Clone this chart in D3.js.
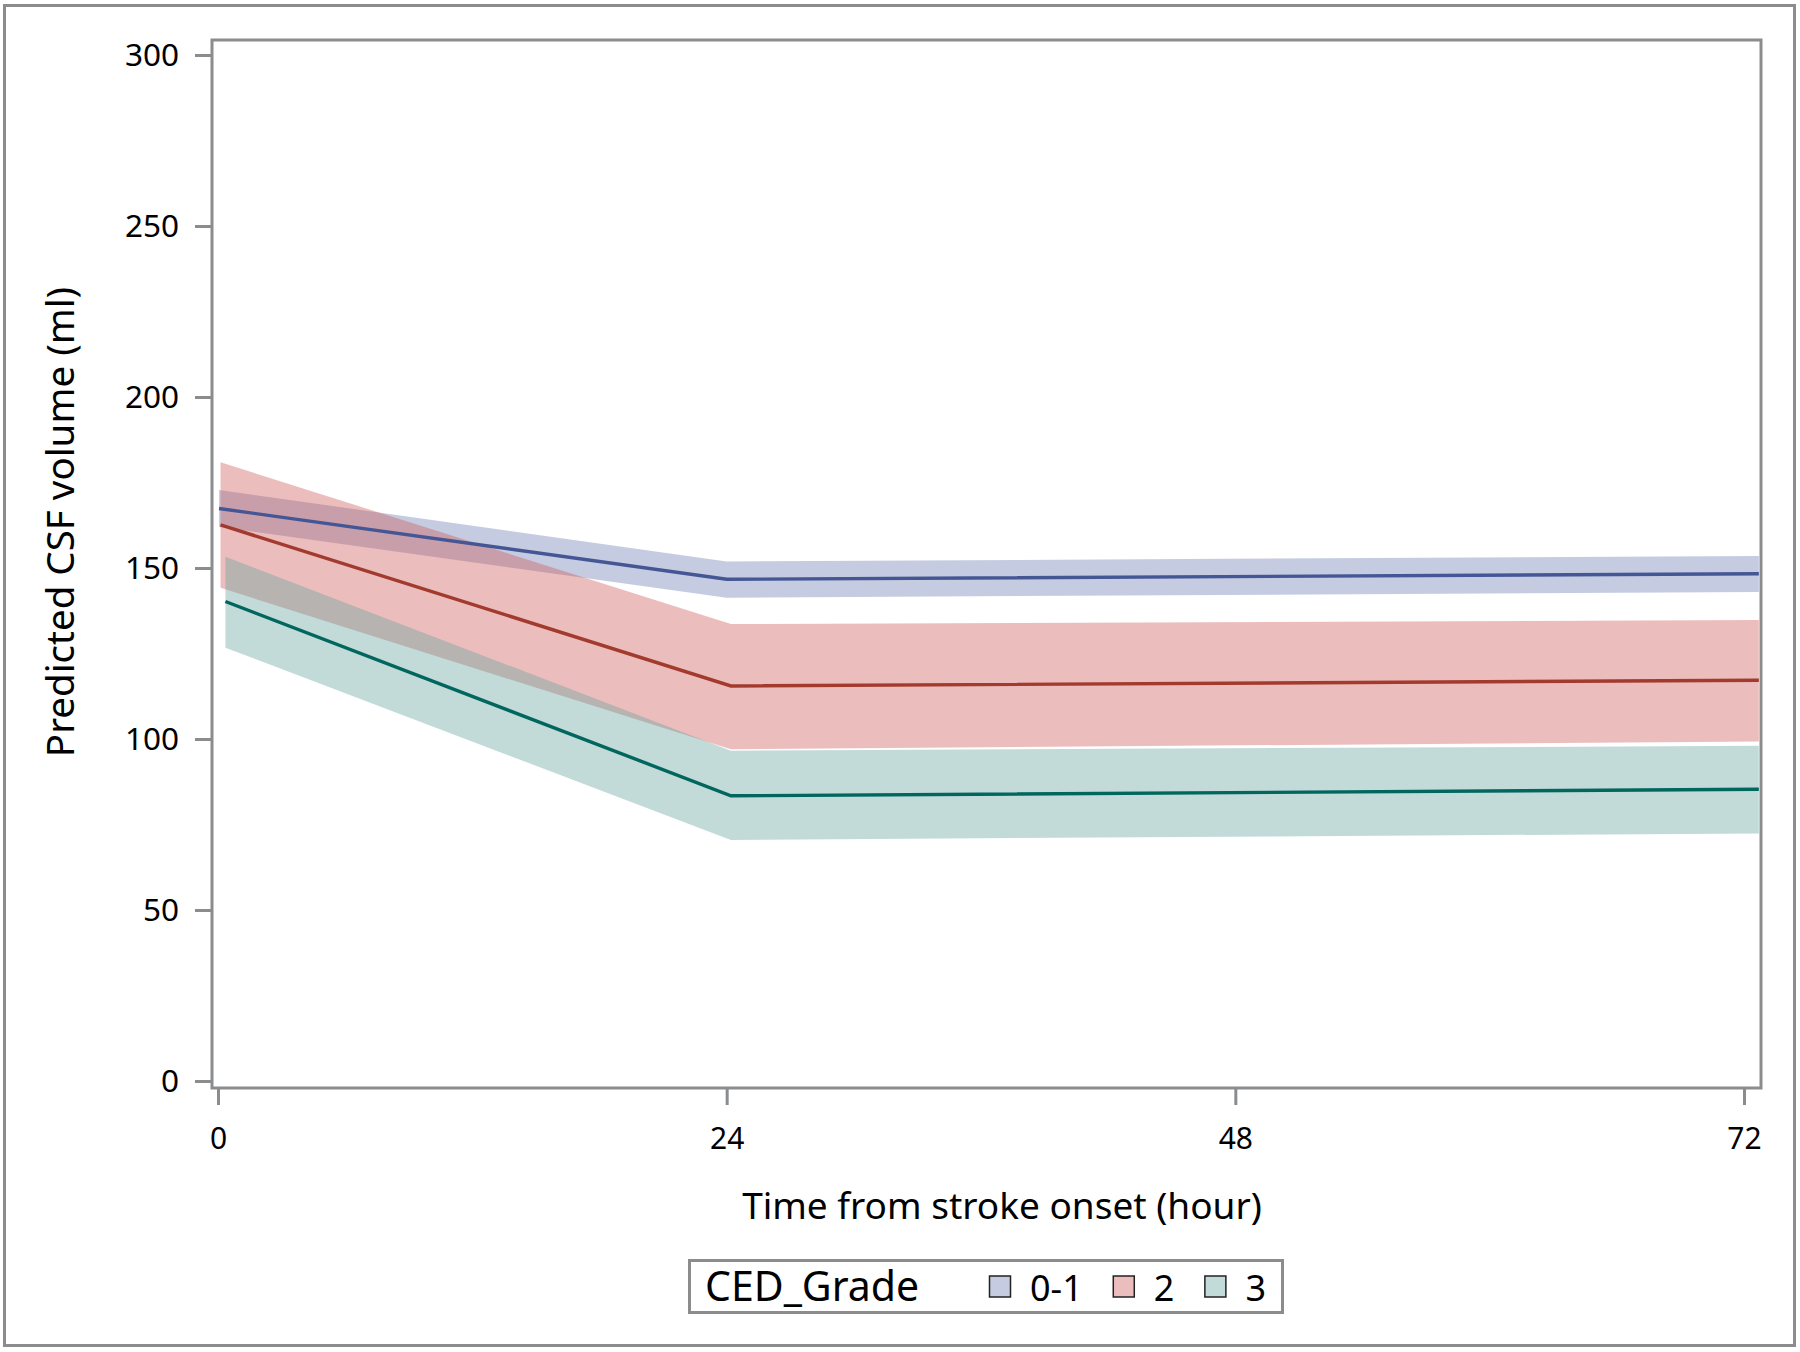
<!DOCTYPE html>
<html>
<head>
<meta charset="utf-8">
<script src="https://cdn.jsdelivr.net/npm/d3@7"></script>
<style>
  html, body { margin: 0; padding: 0; background: #fff; }
  svg { display: block; }
  text { font-family: "Noto Sans", "DejaVu Sans", sans-serif; fill: #000; }
</style>
</head>
<body>
<svg id="chart" width="1800" height="1352"></svg>
<script>
// ---- data ----
const groups = ["0-1", "2", "3"];
const times0_1 = [0.05, 24.0, 72.7];
const mean0_1  = [167.4, 146.7, 148.3];
const lower0_1 = [162.0, 141.3, 143.0];
const upper0_1 = [172.8, 151.9, 153.5];

const times2 = [0.12, 24.2, 72.7];
const mean2  = [162.6, 115.5, 117.2];
const lower2 = [144.2, 97.0, 99.3];
const upper2 = [180.9, 133.6, 134.8];

const times3 = [0.35, 24.2, 72.7];
const mean3  = [140.2, 83.4, 85.3];
const lower3 = [126.7, 70.5, 72.4];
const upper3 = [153.3, 96.6, 98.0];

const xTicks = [0, 24, 48, 72];
const yTicks = [0, 50, 100, 150, 200, 250, 300];
const lineColors = ["#445694", "#A23A2E", "#01665E"];
const fillColors = ["#6F7EB3", "#D05B5B", "#66A5A0"];

const series = [
  {name: groups[0], t: times0_1, m: mean0_1, lo: lower0_1, hi: upper0_1},
  {name: groups[1], t: times2, m: mean2, lo: lower2, hi: upper2},
  {name: groups[2], t: times3, m: mean3, lo: lower3, hi: upper3}
].map(s => ({name: s.name, pts: s.t.map((t, i) => ({t, m: s.m[i], lo: s.lo[i], hi: s.hi[i]}))}));

// ---- layout ----
const svg = d3.select("#chart");
const frameColor = "#8a8c8e";
const plot = {left: 212, right: 1761, top: 40, bottom: 1088};

const x = d3.scaleLinear().domain([0, 72]).range([218, 1744]);
const y = d3.scaleLinear().domain([0, 300]).range([1081, 55]);

// outer border
svg.append("rect").attr("x", 4.5).attr("y", 5.5).attr("width", 1790).attr("height", 1340)
  .attr("fill", "none").attr("stroke", frameColor).attr("stroke-width", 3);

// clip
svg.append("defs").append("clipPath").attr("id", "clip")
  .append("rect").attr("x", plot.left).attr("y", plot.top)
  .attr("width", plot.right - plot.left).attr("height", plot.bottom - plot.top);

const g = svg.append("g").attr("clip-path", "url(#clip)");

const area = d3.area().x(d => x(d.t)).y0(d => y(d.lo)).y1(d => y(d.hi));
const line = d3.line().x(d => x(d.t)).y(d => y(d.m));

series.forEach((s, i) => {
  g.append("path").datum(s.pts).attr("d", area)
    .attr("fill", fillColors[i]).attr("fill-opacity", 0.4).attr("stroke", "none");
});
series.forEach((s, i) => {
  g.append("path").datum(s.pts).attr("d", line)
    .attr("fill", "none").attr("stroke", lineColors[i]).attr("stroke-width", 3.4);
});

// plot frame
svg.append("rect").attr("x", plot.left).attr("y", plot.top)
  .attr("width", plot.right - plot.left).attr("height", plot.bottom - plot.top)
  .attr("fill", "none").attr("stroke", frameColor).attr("stroke-width", 3);

// axes
const yAxis = svg.append("g").attr("transform", `translate(${plot.left - 1},0)`)
  .call(d3.axisLeft(y).tickValues(yTicks).tickSize(16).tickSizeOuter(0).tickPadding(16));
const xAxis = svg.append("g").attr("transform", `translate(0,${plot.bottom + 1})`)
  .call(d3.axisBottom(x).tickValues(xTicks).tickSize(16).tickSizeOuter(0).tickPadding(23));
[yAxis, xAxis].forEach(a => {
  a.select(".domain").remove();
  a.selectAll(".tick line").attr("stroke", frameColor).attr("stroke-width", 3);
  a.selectAll(".tick text").style("font-family", '"Noto Sans", sans-serif').attr("fill", "#000");
});
yAxis.selectAll(".tick text").style("font-size", "31.5px");
xAxis.selectAll(".tick text").style("font-size", "30px");

// axis titles
svg.append("text").attr("x", 1002).attr("y", 1219).attr("text-anchor", "middle")
  .style("font-size", "37px").text("Time from stroke onset (hour)");
svg.append("text").attr("transform", "translate(74,522) rotate(-90)").attr("text-anchor", "middle")
  .style("font-size", "38.5px").text("Predicted CSF volume (ml)");

// legend
const leg = svg.append("g");
leg.append("rect").attr("x", 689.5).attr("y", 1260.5).attr("width", 593).attr("height", 52)
  .attr("fill", "#fff").attr("stroke", frameColor).attr("stroke-width", 3);
leg.append("text").attr("x", 705).attr("y", 1301).style("font-size", "41px").text("CED_Grade");
let lx = 989;
groups.forEach((name, i) => {
  leg.append("rect").attr("x", lx + 0.5).attr("y", 1276).attr("width", 21).attr("height", 21)
    .attr("fill", fillColors[i]).attr("fill-opacity", 0.4).attr("stroke", "#222").attr("stroke-width", 1.5);
  const t = leg.append("text").attr("x", lx + 41).attr("y", 1301).style("font-size", "36px").text(name);
  lx = lx + 41 + t.node().getComputedTextLength() + 30;
});
</script>
</body>
</html>
